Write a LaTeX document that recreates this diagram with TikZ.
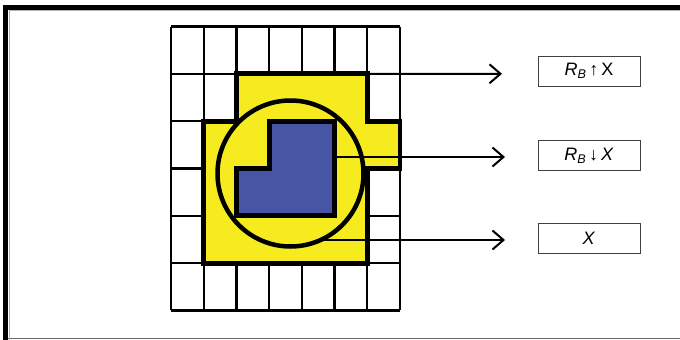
\documentclass[tikz,border=0pt]{standalone}
\usepackage{fontspec}
\setmainfont{Liberation Sans}
\usetikzlibrary{arrows.meta}
\definecolor{fillyellow}{RGB}{246,235,30}
\definecolor{fillblue}{RGB}{72,84,164}
\tikzset{
  gridline/.style={line width=2.2pt, black},
  thickedge/.style={line width=4.8pt, black, line join=miter},
  arr/.style={line width=2pt, -{Straight Barb[length=11pt,width=19pt]}},
  labelbox/.style={draw=black!75, line width=0.9pt, minimum width=102pt, minimum height=30pt, inner sep=0pt, font=\fontsize{18}{20}\selectfont}
}
\begin{document}
\begin{tikzpicture}[x=1pt,y=-1pt]
\useasboundingbox (0,0) rectangle (680,340);
% frame
\draw[black!60, line width=1.5pt] (8,338.5) -- (680,338.5);
\draw[black!30, line width=0.8pt] (9,340) -- (9,10.5) -- (680,10.5);
\draw[black, line width=5pt] (5.5,340) -- (5.5,7.5) -- (680,7.5);
% grid
\begin{scope}[shift={(171pt,-26.5pt)}, x=32.7pt, y=-47.33pt]
  \foreach \i in {0,...,7} \draw[gridline] (\i,0) -- (\i,6);
  \foreach \j in {0,...,6} \draw[gridline] (0,\j) -- (7,\j);
  \draw[thickedge, fill=fillyellow] (2,1) -- (6,1) -- (6,2) -- (7,2) -- (7,3) -- (6,3) -- (6,5) -- (1,5) -- (1,2) -- (2,2) -- cycle;
  \draw[thickedge, fill=fillblue] (3,2) -- (5,2) -- (5,4) -- (2,4) -- (2,3) -- (3,3) -- cycle;
  \coordinate (s1) at (6,1);
\end{scope}
\draw[line width=4.5pt] (290.5,173.5) circle[radius=73pt];
% boxes
\node[labelbox] (b1) at (589,71) {\textit{R}\textsubscript{\textit{B}}\,↑\,X};
\node[labelbox] (b2) at (589,155.5) {\textit{R}\textsubscript{\textit{B}}\,↓\,\textit{X}};
\node[labelbox] (b3) at (589,238.5) {\textit{X}};
% arrows
\coordinate (s2) at (335,157);
\coordinate (s3) at (317,240);
\coordinate (e1) at (502,73.8);
\coordinate (e2) at (505,157);
\coordinate (e3) at (505,240);
\draw[arr] (s1) -- (e1);
\draw[arr] (s2) -- (e2);
\draw[arr] (s3) -- (e3);
\end{tikzpicture}
\end{document}
